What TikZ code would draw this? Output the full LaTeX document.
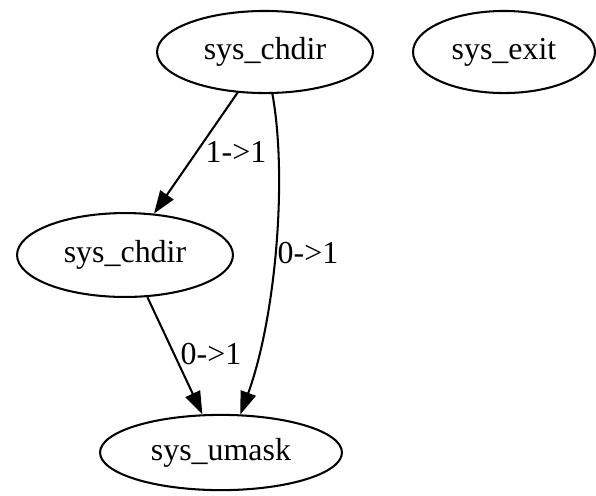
\documentclass[tikz,border=0pt]{standalone}
\usepackage{fontspec}
\setmainfont{Liberation Serif}
\usetikzlibrary{shapes.geometric,arrows.meta}

\tikzset{
  callnode/.style={ellipse, draw, line width=0.9pt, inner sep=0pt,
    minimum height=36pt, font=\fontsize{14}{16}\selectfont},
  calledge/.style={draw, line width=0.9pt,
    -{Triangle[length=10pt,width=7pt]}},
  edgelabel/.style={font=\fontsize{14}{16}\selectfont, inner sep=0pt}
}

\begin{document}
\begin{tikzpicture}[x=0.4386pt, y=-0.4386pt]
  \useasboundingbox (0,0) rectangle (596,495);

  % call nodes
  \node[callnode, minimum width=94.7pt] (chdirA) at (265,52) {sys\_chdir};
  \node[callnode, minimum width=79.8pt] (exit) at (504,52) {sys\_exit};
  \node[callnode, minimum width=94.7pt, minimum height=36.8pt] (chdirB) at (125,255) {sys\_chdir};
  \node[callnode, minimum width=106.1pt, minimum height=33pt] (umask) at (221,452.5) {sys\_umask};

  % edges
  \draw[calledge] (chdirA.236.3) -- (chdirB.55);
  \draw[calledge] (chdirA.280.8) .. controls (288,180) and (275,320) .. (umask.63.1);
  \draw[calledge] (chdirB.298.8) -- (umask.116.9);

  % edge labels
  \node[edgelabel] (l1) at (236,152) {1->1};
  \node[edgelabel] (l2) at (308,253) {0->1};
  \node[edgelabel] (l3) at (211,354) {0->1};
\end{tikzpicture}
\end{document}
